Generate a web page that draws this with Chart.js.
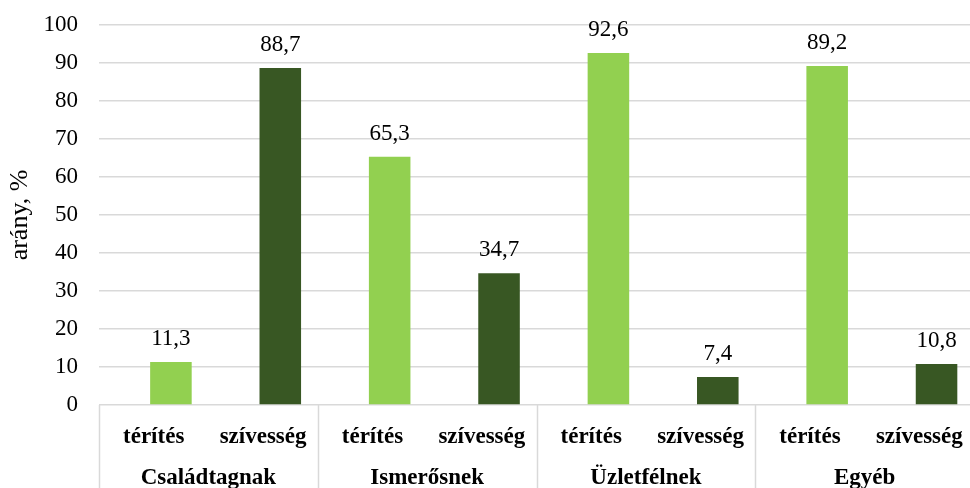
<!DOCTYPE html>
<html>
<head>
<meta charset="utf-8">
<script src="https://cdn.jsdelivr.net/npm/chart.js@4/dist/chart.umd.min.js"></script>
<style>
  html, body { margin: 0; padding: 0; background: #ffffff; overflow: hidden; width: 970px; height: 488px; }
  /* the plot runs a few pixels past the right edge of the page */
  #wrap { width: 974px; height: 488px; position: relative; }
</style>
</head>
<body>
<div id="wrap"><canvas id="chart"></canvas></div>
<script>
// Címzettek (csoportok) és a két fajta
const groups = ['Családtagnak', 'Ismerősnek', 'Üzletfélnek', 'Egyéb'];
const kinds = ['térítés', 'szívesség'];
// Arányok, % – csoportonként
const teritesValues = [11.3, 65.3, 92.6, 89.2];
const szivessegValues = [88.7, 34.7, 7.4, 10.8];
// Y tengely
const yMin = 0, yMax = 100, yStep = 10;
const yTitle = 'arány, %';

const LIGHT = '#92d050';
const DARK = '#385723';
const GRID = '#d9d9d9';
const FONT = "'Liberation Serif', 'Times New Roman', serif";

// Minden csoport két kategóriát kap: térítés, szívesség
const labels = [];
const lightData = [];
const darkData = [];
groups.forEach((g, i) => {
  labels.push(kinds[0], kinds[1]);
  lightData.push(teritesValues[i], null);
  darkData.push(null, szivessegValues[i]);
});

const fmt = v => v.toFixed(1).replace('.', ',');

// Értékcímkék az oszlopok fölé
const valueLabels = {
  id: 'valueLabels',
  afterDatasetsDraw(chart) {
    const ctx = chart.ctx;
    ctx.save();
    ctx.font = '23px ' + FONT;
    ctx.fillStyle = '#000';
    ctx.textAlign = 'center';
    ctx.textBaseline = 'alphabetic';
    chart.data.datasets.forEach((ds, di) => {
      const meta = chart.getDatasetMeta(di);
      meta.data.forEach((el, i) => {
        const v = ds.data[i];
        if (v === null || v === undefined) return;
        ctx.fillText(fmt(v), el.x, el.y - 17);
      });
    });
    ctx.restore();
  }
};

// Csoportnevek és elválasztó vonalak a kategóriatengely alatt
const groupAxis = {
  id: 'groupAxis',
  afterDraw(chart) {
    const ctx = chart.ctx;
    const x = chart.scales.x;
    const area = chart.chartArea;
    const step = (x.getPixelForValue(1) - x.getPixelForValue(0));
    ctx.save();
    ctx.strokeStyle = GRID;
    ctx.lineWidth = 1.5;
    for (let i = 0; i <= groups.length; i++) {
      const px = Math.round(x.getPixelForValue(i * 2) - step / 2) + 0.5;
      ctx.beginPath();
      ctx.moveTo(px, area.bottom);
      ctx.lineTo(px, chart.height);
      ctx.stroke();
    }
    ctx.font = 'bold 23px ' + FONT;
    ctx.fillStyle = '#000';
    ctx.textAlign = 'center';
    ctx.textBaseline = 'alphabetic';
    groups.forEach((g, i) => {
      const cx = (x.getPixelForValue(i * 2) + x.getPixelForValue(i * 2 + 1)) / 2;
      ctx.fillText(g, cx, 484);
    });
    ctx.restore();
  }
};

new Chart(document.getElementById('chart'), {
  type: 'bar',
  data: {
    labels: labels,
    datasets: [
      // üres hely a kategória bal felén
      { label: '', data: labels.map(() => null), stack: 'ures', backgroundColor: 'rgba(0,0,0,0)' },
      { label: kinds[0], data: lightData, stack: 'ertek', backgroundColor: LIGHT },
      { label: kinds[1], data: darkData, stack: 'ertek', backgroundColor: DARK }
    ]
  },
  options: {
    responsive: true,
    maintainAspectRatio: false,
    animation: false,
    categoryPercentage: 0.63,
    barPercentage: 1.206,
    layout: { padding: { top: 25, right: 0, bottom: 0, left: 0 } },
    plugins: {
      legend: { display: false },
      tooltip: { enabled: false }
    },
    scales: {
      x: {
        offset: true,
        grid: { display: false, drawTicks: false },
        border: { display: false },
        ticks: {
          color: '#000',
          font: { family: FONT, size: 23, weight: 'bold' },
          padding: 18,
          maxRotation: 0,
          autoSkip: false
        },
        afterFit(scale) {
          scale.height = 83;
          scale.paddingLeft = 0;
          scale.paddingRight = 0;
        }
      },
      y: {
        min: yMin,
        max: yMax,
        grid: { color: GRID, lineWidth: 1.5, drawTicks: false },
        border: { display: false },
        ticks: {
          stepSize: yStep,
          color: '#000',
          font: { family: FONT, size: 23 },
          padding: 21
        },
        title: {
          display: true,
          text: yTitle,
          color: '#000',
          font: { family: FONT, size: 26 },
          padding: { top: 5, bottom: 0 }
        },
        afterFit(scale) {
          scale.width = 99;
          scale.paddingTop = 0;
          scale.paddingBottom = 0;
        }
      }
    }
  },
  plugins: [valueLabels, groupAxis]
});
</script>
</body>
</html>
